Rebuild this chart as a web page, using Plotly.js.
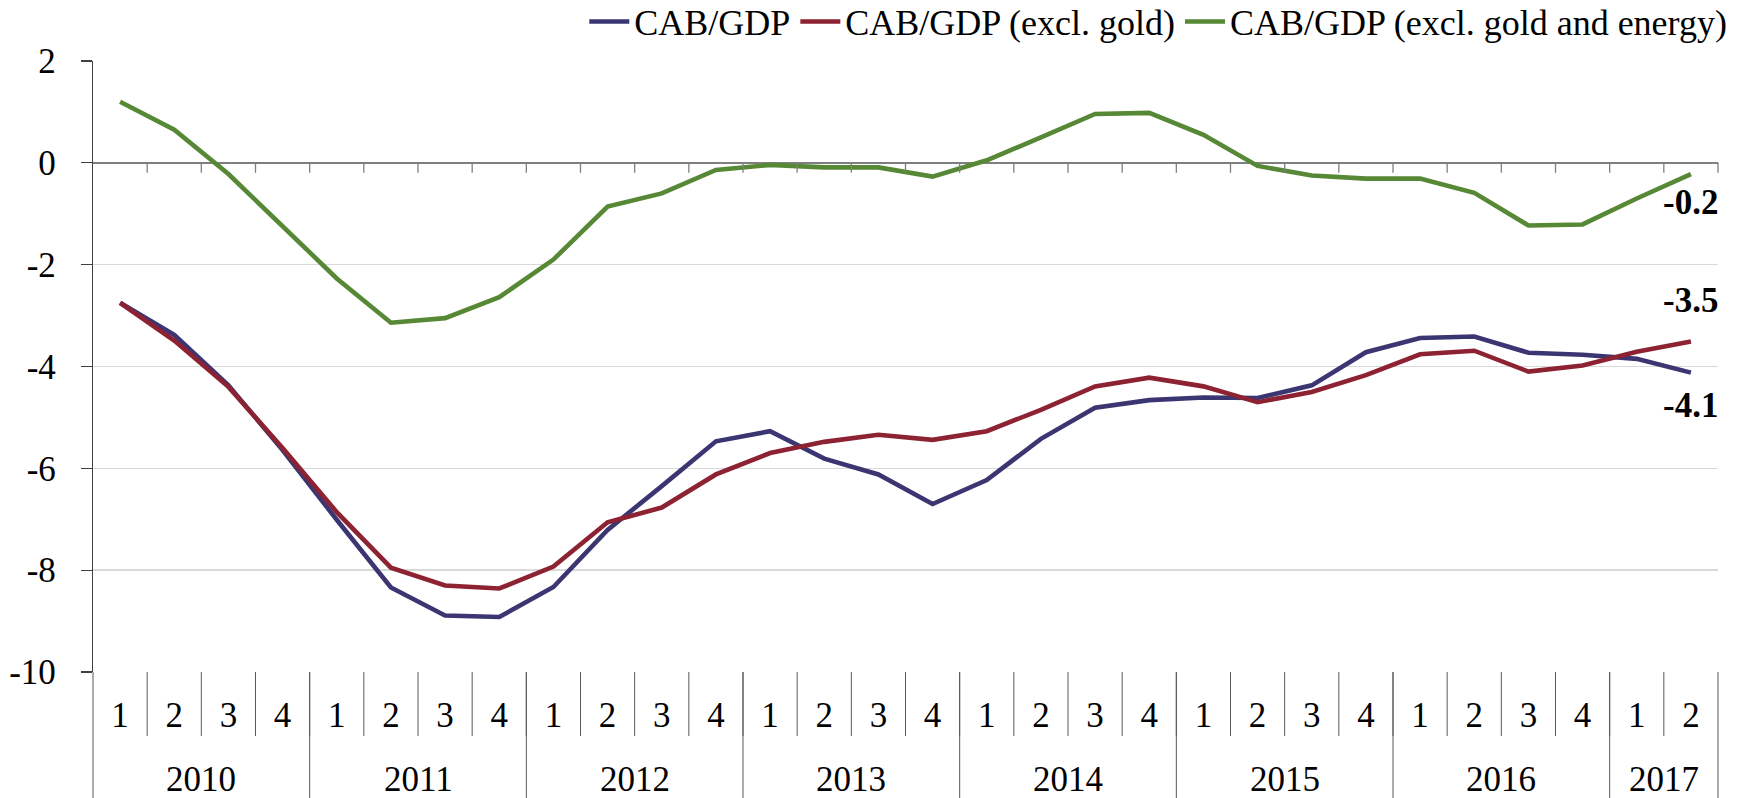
<!DOCTYPE html>
<html>
<head>
<meta charset="utf-8">
<script src="https://cdn.plot.ly/plotly-3.0.1.min.js"></script>
<style>
  html, body { margin: 0; padding: 0; background: #ffffff; }
  #chart { width: 1741px; height: 798px; }
</style>
</head>
<body>
<div id="chart"></div>
<script>
// ---- Data ----
const years = ['2010', '2011', '2012', '2013', '2014', '2015', '2016', '2017'];
const quartersPerYear = [4, 4, 4, 4, 4, 4, 4, 2];
const quarterLabels = ['1','2','3','4','1','2','3','4','1','2','3','4','1','2','3','4',
                       '1','2','3','4','1','2','3','4','1','2','3','4','1','2'];

const seriesNames = ['CAB/GDP', 'CAB/GDP (excl. gold)', 'CAB/GDP (excl. gold and energy)'];

const cabGdp = [-2.75, -3.38, -4.37, -5.64, -7.01, -8.34, -8.89, -8.92, -8.33, -7.21,
                -6.35, -5.47, -5.27, -5.81, -6.12, -6.70, -6.23, -5.42, -4.81, -4.66,
                -4.61, -4.62, -4.37, -3.72, -3.44, -3.41, -3.73, -3.77, -3.85, -4.12];

const cabGdpExGold = [-2.75, -3.49, -4.40, -5.60, -6.86, -7.95, -8.30, -8.36, -7.93, -7.06,
                      -6.77, -6.12, -5.70, -5.48, -5.34, -5.44, -5.27, -4.85, -4.39, -4.22,
                      -4.39, -4.70, -4.50, -4.17, -3.76, -3.69, -4.10, -3.98, -3.71, -3.51];

const cabGdpExGoldEnergy = [1.20, 0.65, -0.22, -1.26, -2.27, -3.14, -3.05, -2.64, -1.90, -0.86,
                            -0.60, -0.14, -0.04, -0.09, -0.09, -0.27, 0.05, 0.50, 0.96, 0.98,
                            0.55, -0.06, -0.25, -0.31, -0.31, -0.59, -1.23, -1.21, -0.70, -0.22];

const yTicks = [2, 0, -2, -4, -6, -8, -10];

// ---- Styles ----
const colors = ['#3b3672', '#8d2232', '#568835'];
const FONT = 'Liberation Serif, Times New Roman, serif';
const FS = 35;

// unique category keys per period
const periods = [];
years.forEach((y, k) => {
  for (let q = 0; q < quartersPerYear[k]; q++) periods.push(y + '-' + (q + 1));
});

const dataSeries = [cabGdp, cabGdpExGold, cabGdpExGoldEnergy];
const traces = dataSeries.map((vals, i) => ({
  type: 'scatter',
  mode: 'lines',
  x: periods,
  y: vals,
  name: seriesNames[i],
  line: { color: colors[i], width: 4.6 },
  hoverinfo: 'skip'
}));

// ---- Shapes: zero-line tick marks, category separators, year dividers ----
const shapes = [];
const n = periods.length;
const sepColor = '#595959';
for (let b = 0; b < n - 1; b++) {
  const xb = b + 0.5;
  shapes.push({ type: 'line', xref: 'x', yref: 'y', ysizemode: 'pixel', yanchor: 0,
    x0: xb, x1: xb, y0: 0, y1: -10, line: { color: '#7f7f7f', width: 1.3 } });
  shapes.push({ type: 'line', xref: 'x', yref: 'paper', ysizemode: 'pixel', yanchor: 0,
    x0: xb, x1: xb, y0: 0, y1: -64, line: { color: sepColor, width: 1 } });
}
shapes.push({ type: 'line', xref: 'paper', yref: 'y', ysizemode: 'pixel', yanchor: 0,
  x0: 1, x1: 1, y0: 0, y1: -10, line: { color: '#7f7f7f', width: 1.3 } });
let cum = 0;
quartersPerYear.forEach((c, k) => {
  cum += c;
  if (k < quartersPerYear.length - 1) {
    shapes.push({ type: 'line', xref: 'x', yref: 'paper', ysizemode: 'pixel', yanchor: 0,
      x0: cum - 0.5, x1: cum - 0.5, y0: 0, y1: -126, line: { color: sepColor, width: 1 } });
  }
});
[0, 1].forEach(xp => {
  shapes.push({ type: 'line', xref: 'paper', yref: 'paper', ysizemode: 'pixel', yanchor: 0,
    x0: xp, x1: xp, y0: 0, y1: -126, line: { color: sepColor, width: 1 } });
});

// ---- Annotations: year labels and end-value labels ----
const annotations = [];
let start = 0;
quartersPerYear.forEach((c, k) => {
  annotations.push({
    x: start + (c - 1) / 2, xref: 'x', y: 0, yref: 'paper',
    yanchor: 'middle', yshift: -107, showarrow: false,
    text: years[k], font: { family: FONT, size: FS, color: '#000' }
  });
  start += c;
});
const endShifts = [-33, 41, -28];
dataSeries.forEach((vals, i) => {
  const last = vals[vals.length - 1];
  annotations.push({
    x: periods[periods.length - 1], xref: 'x', y: last, yref: 'y',
    showarrow: false, yshift: endShifts[i], xshift: 0,
    text: '<b>' + last.toFixed(1) + '</b>',
    font: { family: FONT, size: 35, color: '#000' }
  });
});

const layout = {
  width: 1741,
  height: 798,
  paper_bgcolor: '#ffffff',
  plot_bgcolor: '#ffffff',
  margin: { l: 92.5, r: 22.7, t: 61, b: 125.7, pad: 0, autoexpand: false },
  font: { family: FONT, size: FS, color: '#000' },
  showlegend: true,
  legend: {
    orientation: 'h',
    xref: 'container', yref: 'container',
    x: 0.995, xanchor: 'right',
    y: 0.973, yanchor: 'middle',
    itemwidth: 40,
    font: { family: FONT, size: 36, color: '#000' },
    bgcolor: 'rgba(0,0,0,0)',
    traceorder: 'normal'
  },
  xaxis: {
    type: 'category',
    range: [-0.5, n - 0.5],
    tickmode: 'array',
    tickvals: periods,
    ticktext: quarterLabels,
    ticks: '',
    showgrid: false,
    zeroline: false,
    showline: false,
    ticklabelstandoff: 19,
    tickfont: { family: FONT, size: FS, color: '#000' },
    fixedrange: true
  },
  yaxis: {
    range: [-10, 2],
    tickmode: 'array',
    tickvals: yTicks,
    ticktext: yTicks.map(String),
    showgrid: true,
    gridcolor: '#d9d9d9',
    gridwidth: 1.6,
    zeroline: true,
    zerolinecolor: '#7f7f7f',
    zerolinewidth: 1.6,
    showline: true,
    linecolor: '#404040',
    linewidth: 1.2,
    ticks: 'outside',
    ticklen: 11,
    tickcolor: '#404040',
    tickwidth: 1.2,
    ticklabelstandoff: 18,
    tickfont: { family: FONT, size: FS, color: '#000' },
    fixedrange: true
  },
  shapes: shapes,
  annotations: annotations
};

Plotly.newPlot('chart', traces, layout, { displayModeBar: false, staticPlot: true });
</script>
</body>
</html>
